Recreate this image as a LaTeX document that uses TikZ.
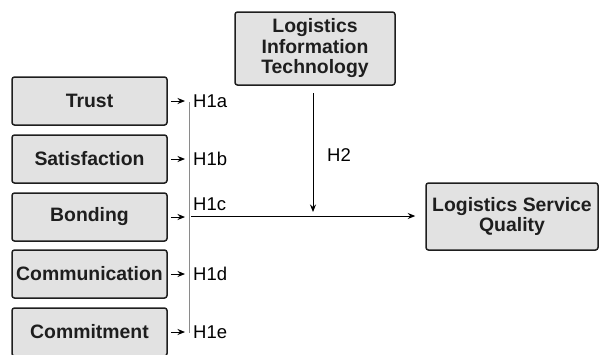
\documentclass[tikz,border=0pt]{standalone}
\usepackage{fontspec}
\setmainfont{Liberation Sans}
\usetikzlibrary{arrows.meta}
\definecolor{boxfill}{HTML}{E2E2E2}
\definecolor{boxline}{HTML}{1E1E1E}
\definecolor{busline}{HTML}{8A8A8A}
\tikzset{
  construct/.style={draw=boxline, line width=1.5pt, fill=boxfill, rounded corners=2.5pt,
    align=center, inner sep=0pt, text=boxline, font=\fontsize{19.4}{20.5}\selectfont\bfseries},
  arr/.style={draw=black, line width=0.9pt, -{Stealth[length=7.5pt,width=6pt]}},
  hyp/.style={anchor=west, inner sep=0pt, font=\fontsize{18.5}{20}\selectfont},
}
\begin{document}
\begin{tikzpicture}[x=1pt,y=-1pt]
\useasboundingbox (0,0) rectangle (600,354);

% antecedent constructs
\node[construct, minimum width=155pt, minimum height=48pt] (trust)  at (89.5,101) {Trust};
\node[construct, minimum width=155pt, minimum height=48pt] (satis)  at (89.5,159) {Satisfaction};
\node[construct, minimum width=155pt, minimum height=48pt] (bond)   at (89.5,217) {Bonding};
\node[construct, minimum width=155pt, minimum height=48pt] (comm)   at (89.5,274) {Communication};
\node[construct, minimum width=155pt, minimum height=48pt] (commit) at (89.5,332) {Commitment};

% moderator and outcome
\node[construct, minimum width=160pt, minimum height=73pt] (lit) at (315,48.5)
  {Logistics\\Information\\Technology};
\node[construct, minimum width=172pt, minimum height=67pt] (lsq) at (512,216.5)
  {Logistics Service\\Quality};

% collecting bus
\coordinate (tipx) at (185,0);
\coordinate (busTop) at (189,102);
\coordinate (busBot) at (189,333);
\draw[busline, line width=0.9pt] (busTop) -- (busBot);

% arrows into the bus
\foreach \n in {trust,satis,bond,comm,commit}
  \draw[arr, shorten <=3pt] (\n.east) -- (\n.east -| tipx);

% main path to service quality
\coordinate (hstart) at (191,216);
\draw[arr, shorten >=10pt] (hstart) -- (hstart -| lsq.west);

% moderating arrow
\coordinate (h2top) at (313,93);
\draw[arr, shorten >=4pt] (h2top) -- (h2top |- hstart);

% hypothesis labels
\node[hyp] (h1a) at (193,101) {H1a};
\node[hyp] (h1b) at (193,159) {H1b};
\node[hyp] (h1c) at (193,204) {H1c};
\node[hyp] (h1d) at (193,274) {H1d};
\node[hyp] (h1e) at (193,332) {H1e};
\node[hyp] (h2)  at (327,155) {H2};
\end{tikzpicture}
\end{document}
